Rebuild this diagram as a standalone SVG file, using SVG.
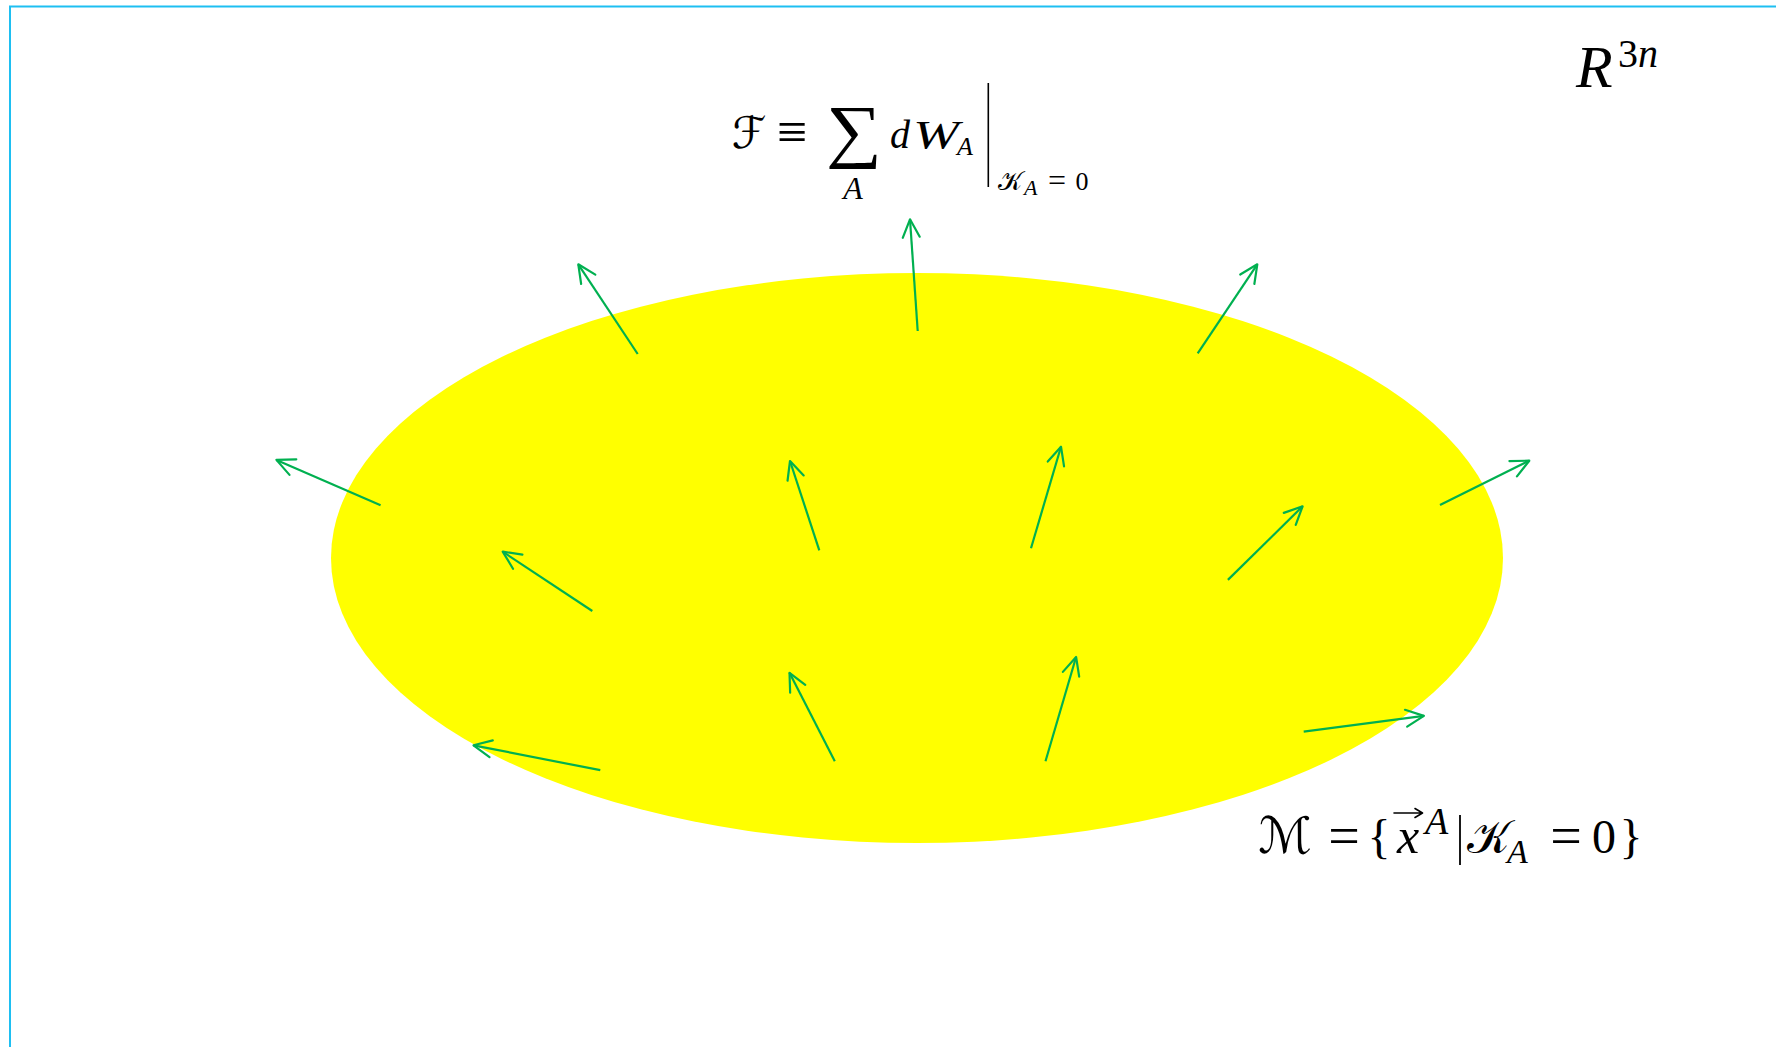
<svg xmlns="http://www.w3.org/2000/svg" width="1776" height="1047" viewBox="0 0 1776 1047">
<defs>
<style>
.arr{stroke:#00b050;stroke-width:2.2;fill:none;marker-end:url(#head)}
.m{font-family:"Liberation Serif","Times New Roman",serif;fill:#000}
.i{font-style:italic}
.cal{font-family:"DejaVu Serif","DejaVu Sans","Noto Sans",serif;fill:#000;font-style:normal}
</style>
<marker id="head" markerUnits="userSpaceOnUse" markerWidth="30" markerHeight="30" viewBox="-25 -15 30 30" refX="0" refY="0" orient="auto">
<path d="M-18,-8.5 L0,0 L-18,8.5" fill="none" stroke="#00b050" stroke-width="2.2" stroke-linecap="round" stroke-linejoin="round"/>
</marker>
</defs>
<rect x="0" y="0" width="1776" height="1047" fill="#fff"/>
<rect id="frame" x="10" y="6.5" width="1800" height="1100" fill="none" stroke="#1ebff2" stroke-width="2"/>
<g id="manifold">
<ellipse cx="917" cy="558" rx="586" ry="285" fill="#ffff00"/>
</g>
<g id="connectors">
<line class="arr" x1="637.7" y1="354" x2="578.3" y2="264.3"/>
<line class="arr" x1="917.7" y1="331" x2="910" y2="219.3"/>
<line class="arr" x1="1197.7" y1="353.3" x2="1257.3" y2="264.3"/>
<line class="arr" x1="380.6" y1="505.2" x2="276.4" y2="459.9"/>
<line class="arr" x1="819.3" y1="550.3" x2="790" y2="461"/>
<line class="arr" x1="1031" y1="548.3" x2="1061" y2="446.7"/>
<line class="arr" x1="1440" y1="505" x2="1529.3" y2="460.7"/>
<line class="arr" x1="592.3" y1="611" x2="502.7" y2="551.7"/>
<line class="arr" x1="1227.9" y1="579.9" x2="1302.6" y2="506.3"/>
<line class="arr" x1="600.3" y1="770.2" x2="473.5" y2="745.3"/>
<line class="arr" x1="834.8" y1="761.2" x2="789.5" y2="672.8"/>
<line class="arr" x1="1045.5" y1="761.2" x2="1076.1" y2="657"/>
<line class="arr" x1="1303.7" y1="731.7" x2="1423.9" y2="715.9"/>
</g>
<g id="label-space">
<text class="m i" x="1576" y="87" font-size="60">R</text>
<text class="m" x="1618" y="67" font-size="40">3<tspan class="i">n</tspan></text>
</g>
<g id="label-flow">
<text class="cal" x="749" y="148" font-size="44" text-anchor="middle">ℱ</text>
<text class="m" x="792" y="150" font-size="54" text-anchor="middle">≡</text>
<text class="m" x="826" y="154" font-size="70" textLength="56" lengthAdjust="spacingAndGlyphs">∑</text>
<text class="m i" x="853" y="199" font-size="32" text-anchor="middle">A</text>
<text class="m i" x="890" y="148" font-size="40">d</text>
<text class="m i" x="913" y="148" font-size="40" textLength="46" lengthAdjust="spacingAndGlyphs">W</text>
<text class="m i" x="957" y="155" font-size="26">A</text>
<line x1="988.3" y1="83" x2="988.3" y2="187" stroke="#000" stroke-width="1.6"/>
<text class="cal" x="998" y="190" font-size="26">𝒦</text>
<text class="m i" x="1024" y="195" font-size="22">A</text>
<text class="m" x="1057" y="191" font-size="32" text-anchor="middle">=</text>
<text class="m" x="1082" y="190" font-size="26" text-anchor="middle">0</text>
</g>
<g id="label-manifold">
<text class="cal" x="1285" y="853" font-size="50" text-anchor="middle">ℳ</text>
<text class="m" x="1344" y="855" font-size="56" text-anchor="middle">=</text>
<text class="m" x="1379" y="853" font-size="48" text-anchor="middle">{</text>
<text class="m i" x="1408" y="853" font-size="50" text-anchor="middle">x</text>
<path d="M1394,813 H1422 M1415,808.5 L1422.5,813 L1415,817.5" fill="none" stroke="#000" stroke-width="1.6" stroke-linecap="round" stroke-linejoin="round"/>
<text class="m i" x="1425" y="834" font-size="38">A</text>
<line x1="1460" y1="815" x2="1460" y2="865" stroke="#000" stroke-width="1.8"/>
<text class="cal" x="1467" y="853" font-size="46">𝒦</text>
<text class="m i" x="1507" y="863" font-size="34">A</text>
<text class="m" x="1566" y="855" font-size="56" text-anchor="middle">=</text>
<text class="m" x="1604" y="853" font-size="48" text-anchor="middle">0</text>
<text class="m" x="1631" y="853" font-size="48" text-anchor="middle">}</text>
</g>
</svg>
